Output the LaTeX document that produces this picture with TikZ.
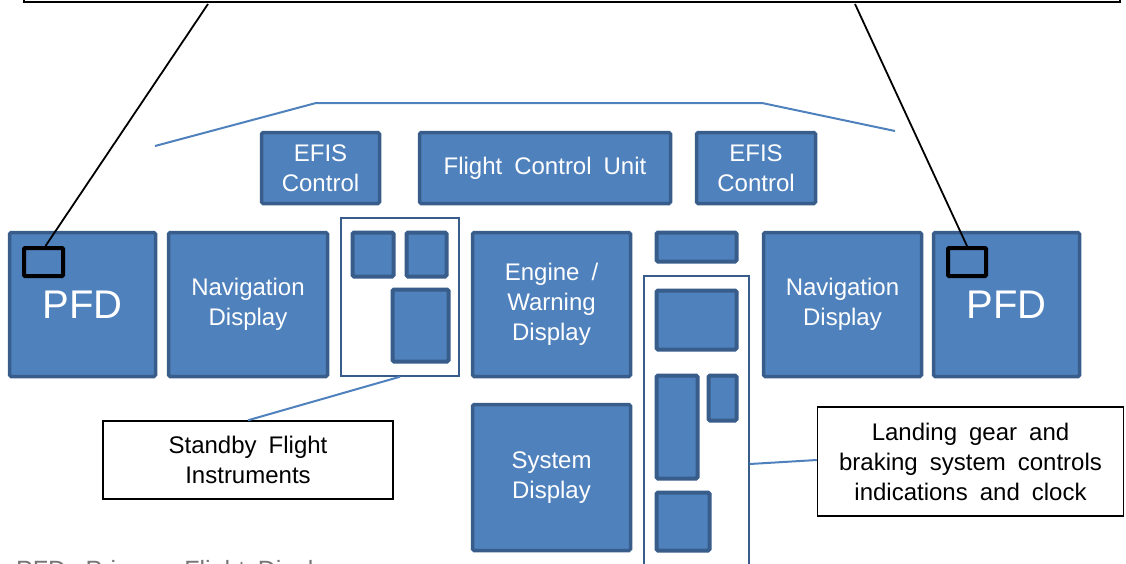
\documentclass[tikz,border=0pt]{standalone}
\usepackage{fontspec}
\setmainfont{Liberation Sans}[WordSpace=1.8]
\definecolor{pfill}{RGB}{79,129,189}
\definecolor{pline}{RGB}{56,93,138}
\definecolor{legendgray}{RGB}{118,118,118}
\begin{document}
\begin{tikzpicture}[x=1pt,y=-1pt,
 panel/.style={rectangle, fill=pfill, draw=pline, line width=3.5pt, rounded corners=1.5pt, text=white, align=center, inner sep=0pt, font=\fontsize{24}{30}\selectfont},
 filler/.style={panel, line width=4pt},
 outline/.style={rectangle, draw=pline, fill=white, line width=1.5pt, inner sep=0pt},
 labelbox/.style={rectangle, draw=black, fill=white, line width=1.5pt, align=center, inner sep=0pt, font=\fontsize{24}{30}\selectfont},
 marker/.style={rectangle, draw=black, line width=4pt, rounded corners=1pt, inner sep=0pt},
 blueline/.style={draw=pfill, line width=2pt},
 blackline/.style={draw=black, line width=1.8pt}
]
\useasboundingbox (0,0) rectangle (1126,563);
\clip (0,0) rectangle (1126,563);

% top callout box (mostly off the page)
\node[rectangle, draw=black, line width=2pt, minimum width=1096pt, minimum height=100pt, anchor=south west, inner sep=0pt] (topbox) at (23,3) {};

% glare shield outline
\draw[blueline] (155,146) -- (316,103) -- (762,103) -- (895,131);

% top row
\node[panel, minimum width=118pt, minimum height=71pt] (efisl) at (320.5,168) {EFIS\\Control};
\node[panel, minimum width=251pt, minimum height=71pt] (fcu) at (545,168) {Flight Control Unit};
\node[panel, minimum width=119pt, minimum height=71pt] (efisr) at (756,168) {EFIS\\Control};

% main row
\node[panel, minimum width=146pt, minimum height=144pt, font=\fontsize{40}{48}\selectfont] (pfdl) at (82.5,304.5) {PFD};
\node[panel, minimum width=159pt, minimum height=144pt] (navl) at (248,304.5) {Navigation\\Display};
\node[outline, minimum width=118pt, minimum height=158pt] (stby) at (400,297) {};
\node[filler, minimum width=41pt, minimum height=44pt] (sb1) at (373,254.5) {};
\node[filler, minimum width=40pt, minimum height=44pt] (sb2) at (426.5,254.5) {};
\node[filler, minimum width=56pt, minimum height=72pt] (sb3) at (420.5,325.5) {};
\node[panel, minimum width=158pt, minimum height=144pt] (ewd) at (551.5,304.5) {Engine /\\Warning\\Display};
\node[panel, minimum width=158pt, minimum height=146pt] (sysd) at (551.5,477.5) {System\\Display};
\node[filler, minimum width=80pt, minimum height=29pt] (ts) at (696.5,247) {};
\node[outline, minimum width=105pt, minimum height=324pt] (rout) at (696.5,438) {};
\node[filler, minimum width=80pt, minimum height=59pt] (ra) at (696.5,320) {};
\node[filler, minimum width=41pt, minimum height=103pt] (rb) at (677,427) {};
\node[filler, minimum width=28pt, minimum height=45pt] (rc) at (722.5,398) {};
\node[filler, minimum width=53pt, minimum height=58pt] (rd) at (683,521.5) {};
\node[panel, minimum width=158pt, minimum height=144pt] (navr) at (842.5,304.5) {Navigation\\Display};
\node[panel, minimum width=146pt, minimum height=144pt, font=\fontsize{40}{48}\selectfont] (pfdr) at (1006.5,304.5) {PFD};

% markers
\node[marker, minimum width=39pt, minimum height=28pt] (blkl) at (43.5,262) {};
\node[marker, minimum width=38pt, minimum height=28pt] (blkr) at (967,262) {};

% labels
\node[labelbox, minimum width=290pt, minimum height=78pt] (stbylbl) at (248,460) {Standby Flight\\Instruments};
\node[labelbox, minimum width=306pt, minimum height=109pt] (landlbl) at (970.5,461.5) {Landing gear and\\braking system controls\\indications and clock};

% leaders
\draw[blueline] (stby.south) -- (stbylbl.north);
\draw[blueline] ([yshift=-26pt]rout.east) -- ([yshift=1.5pt]landlbl.west);
\coordinate (tl) at (208,4);
\coordinate (tr) at (855,4);
\draw[blackline] (tl) -- ([xshift=2pt]blkl.north);
\draw[blackline] (tr) -- (blkr.north);

% legend (cut off by page edge, as in the reference)
\node[anchor=base west, text=legendgray, font=\fontsize{25}{30}\selectfont, inner sep=0pt] (legend) at (16,578.5) {PFD: Primary Flight Display};
\end{tikzpicture}
\end{document}
